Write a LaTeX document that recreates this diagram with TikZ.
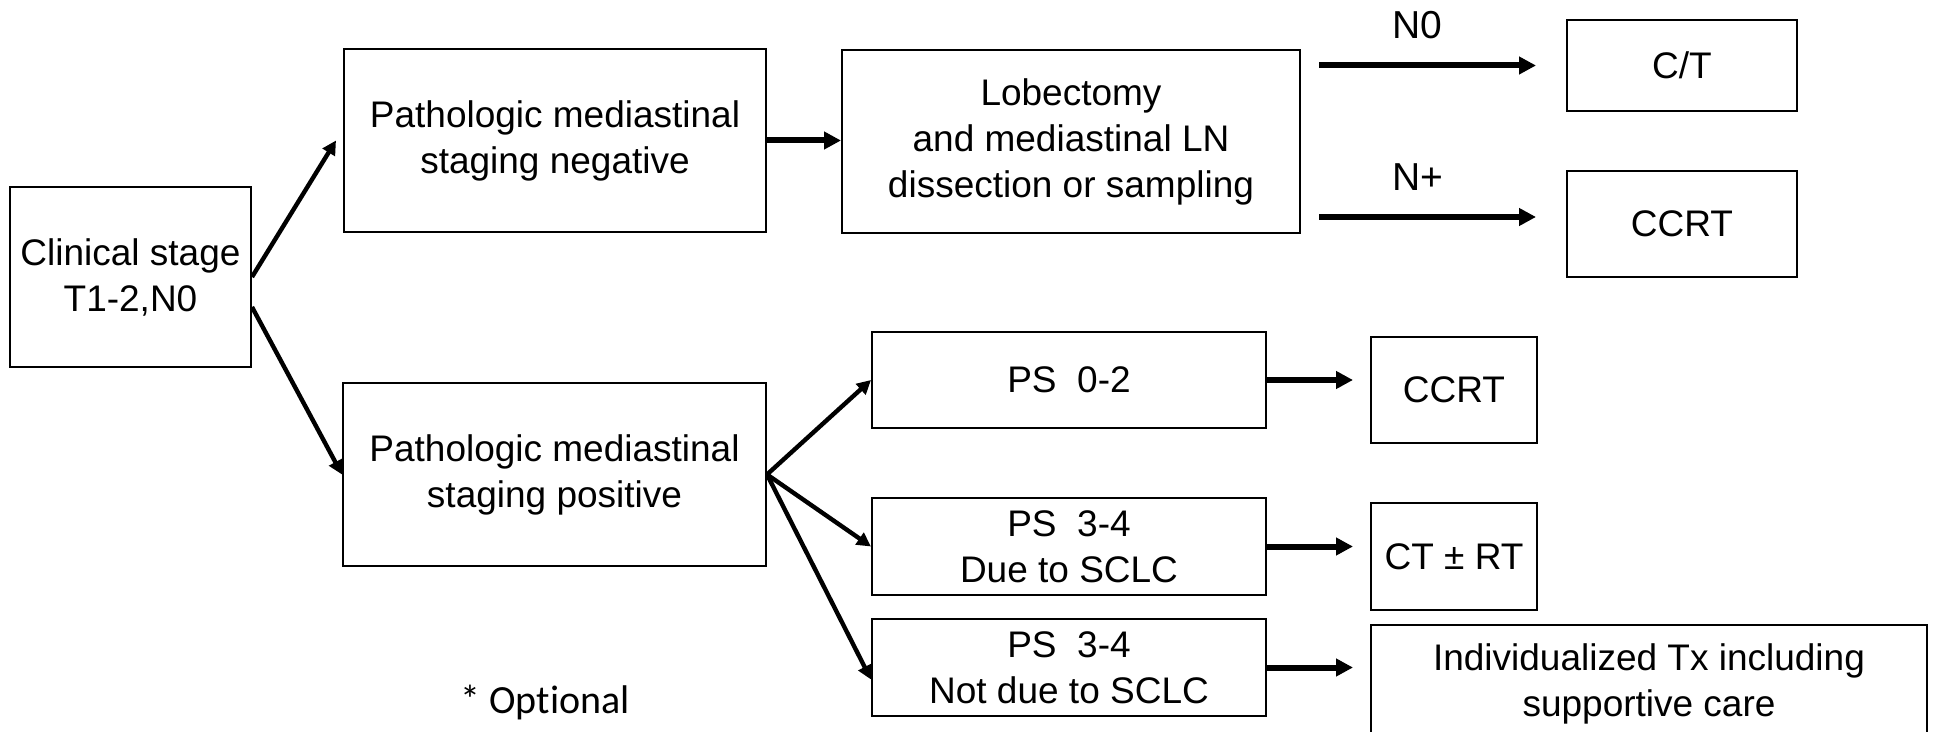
\documentclass[tikz,border=0pt]{standalone}
\usepackage{fontspec}
\setmainfont{Liberation Sans}
\newfontfamily\optfont[Ligatures=NoCommon]{Carlito}
\usetikzlibrary{arrows.meta}
\tikzset{
    box/.style={draw, line width=1pt, align=center, inner sep=0pt,
        font=\fontsize{18.5}{23}\selectfont},
    arr/.style={line width=2.2pt, -{Triangle[length=7pt,width=7pt]}},
    harr/.style={line width=3pt, -{Triangle[length=8.5pt,width=8.5pt]}},
    lbl/.style={font=\fontsize{19.5}{23}\selectfont}
}

\begin{document}
\begin{tikzpicture}[x=0.5pt,y=-0.5pt]
		\useasboundingbox (0,0) rectangle (1933,732);
		\clip (0,0) rectangle (1933,732);
		% left part
		\node[box, minimum width=120.5pt, minimum height=90pt] (clin) at (130.5,277) {Clinical stage\\T1-2,N0};
		\node[box, minimum width=211pt, minimum height=91.5pt] (negst) at (555,140.5) {Pathologic mediastinal\\staging negative};
		\node[box, minimum width=211.5pt, minimum height=91.5pt] (posst) at (554.5,474.5) {Pathologic mediastinal\\staging positive};
		% upper branch
		\node[box, minimum width=229pt, minimum height=91.5pt] (lobect) at (1071,141.5) {Lobectomy\\and mediastinal LN\\dissection or sampling};
		\node[box, minimum width=115pt, minimum height=45.5pt] (ct) at (1682,65.5) {C/T};
		\node[box, minimum width=115pt, minimum height=53pt] (ccrtA) at (1682,224) {CCRT};
		% lower branch
		\node[box, minimum width=197pt, minimum height=48pt] (psA) at (1069,380) {PS~~0-2};
		\node[box, minimum width=197pt, minimum height=48pt] (psB) at (1069,546.5) {PS~~3-4\\Due to SCLC};
		\node[box, minimum width=197pt, minimum height=48.5pt] (psC) at (1069,667.5) {PS~~3-4\\Not due to SCLC};
		\node[box, minimum width=83pt, minimum height=53pt] (ccrtB) at (1454,390) {CCRT};
		\node[box, minimum width=83pt, minimum height=53.5pt] (ctrt) at (1454,556.5) {CT ± RT};
		\node[box, minimum width=278pt, minimum height=59pt] (indiv) at (1649,683.5) {Individualized Tx including\\supportive care};
		\node[font=\optfont\fontsize{20}{24}\selectfont] (opt) at (545,703) {* Optional};
		% connectors
		\draw[arr] (clin.east) -- ([xshift=-3.5pt]negst.west);
		\draw[arr] ([yshift=-15pt]clin.east) -- (posst.west);
		\draw[harr] (negst.east) -- (negst.east -| lobect.west);
		\coordinate (nplus) at ([yshift=3.5pt]ccrtA.west);
		\draw[harr, shorten <=9pt, shorten >=15pt] (lobect.east |- ct.west) -- node[lbl, xshift=-8pt, yshift=20pt] {N0} (ct.west);
		\draw[harr, shorten <=9pt, shorten >=15pt] (lobect.east |- nplus) -- node[lbl, xshift=-8pt, yshift=20pt] {N+} (nplus);
		\draw[arr] (posst.east) -- (psA.west);
		\draw[arr] (posst.east) -- (psB.west);
		\draw[arr] (posst.east) -- ([yshift=-6pt]psC.west);
		\draw[harr, shorten >=8.5pt] (psA.east) -- (psA.east -| ccrtB.west);
		\draw[harr, shorten >=8.5pt] (psB.east) -- (psB.east -| ctrt.west);
		\draw[harr, shorten >=8.5pt] (psC.east) -- (psC.east -| indiv.west);
\end{tikzpicture}
\end{document}
